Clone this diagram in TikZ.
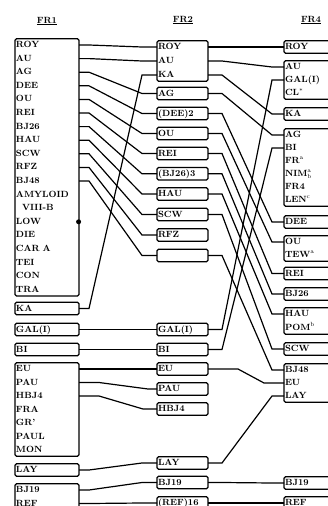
\documentclass[tikz,border=0pt]{standalone}
\usepackage{tikz}
\usetikzlibrary{positioning,fit}

\begin{document}
\begin{tikzpicture}[x=1pt, y=-1pt,
    title/.style={font=\bfseries\small},
    cell/.style={anchor=west, inner xsep=1pt, inner ysep=0pt, outer sep=0pt, text height=7pt,
                 text depth=2pt, align=left, font=\bfseries\small},
    c1/.style={cell, text width=62pt},
    c2/.style={cell, text width=49pt},
    c4/.style={cell, text width=70pt},
    box/.style={draw, line width=1.2pt, rounded corners=1.5pt, inner xsep=0pt, inner ysep=1.75pt},
    link/.style={line width=1.2pt, to path={-- ++(10,0) -- ([xshift=-15pt]\tikztotarget) -- (\tikztotarget)}},
    linkb/.style={line width=1.2pt, to path={-- ++(14,0) -- ([xshift=-12pt]\tikztotarget) -- (\tikztotarget)}},
    centro/.style={circle, fill, inner sep=0pt, minimum size=5pt}
  ]
  \clip (0,0) rectangle (328,506);

  % Titles
  \node[title] (t1) at (47,21) {\underline{FR1}};
  \node[title] (t2) at (183,20) {\underline{FR2}};
  \node[title] (t4) at (311,20) {\underline{FR4}};

  % FR1
  \node[c1] (r1roy) at (15,45) {ROY};
  \node[c1, below=4.6pt of r1roy] (r1au) {AU};
  \node[c1, below=4.6pt of r1au] (r1ag) {AG};
  \node[c1, below=4.6pt of r1ag] (r1dee) {DEE};
  \node[c1, below=4.6pt of r1dee] (r1ou) {OU};
  \node[c1, below=4.6pt of r1ou] (r1rei) {REI};
  \node[c1, below=4.6pt of r1rei] (r1bj26) {BJ26};
  \node[c1, below=4.6pt of r1bj26] (r1hau) {HAU};
  \node[c1, below=4.6pt of r1hau] (r1scw) {SCW};
  \node[c1, below=4.6pt of r1scw] (r1rfz) {RFZ};
  \node[c1, below=4.6pt of r1rfz] (r1bj48) {BJ48};
  \node[c1, below=4.6pt of r1bj48] (r1amy) {AMYLOID};
  \node[c1, below=4.6pt of r1amy] (r1viii) {\hspace*{6pt}VIII-B};
  \node[c1, below=4.6pt of r1viii] (r1low) {LOW};
  \node[c1, below=4.6pt of r1low] (r1die) {DIE};
  \node[c1, below=4.6pt of r1die] (r1car) {CAR A};
  \node[c1, below=4.6pt of r1car] (r1tei) {TEI};
  \node[c1, below=4.6pt of r1tei] (r1con) {CON};
  \node[c1, below=4.6pt of r1con] (r1tra) {TRA};
  \node[box, fit=(r1roy)(r1tra)] (b1main) {};
  \node[centro] (cen) at ([xshift=-1pt]b1main.east |- r1low) {};

  \node[c1] (r1ka) at (15,308.5) {KA};
  \node[box, fit=(r1ka)] (b1ka) {};
  \node[c1] (r1gal) at (15,329.5) {GAL(I)};
  \node[box, fit=(r1gal)] (b1gal) {};
  \node[c1] (r1bi) at (15,349.5) {BI};
  \node[box, fit=(r1bi)] (b1bi) {};

  \node[c1] (r1eu) at (15,369) {EU};
  \node[c1, below=4.5pt of r1eu] (r1pau) {PAU};
  \node[c1, below=4.5pt of r1pau] (r1hbj4) {HBJ4};
  \node[c1, below=4.5pt of r1hbj4] (r1fra) {FRA};
  \node[c1, below=4.5pt of r1fra] (r1gr) {GR'};
  \node[c1, below=4.5pt of r1gr] (r1paul) {PAUL};
  \node[c1, below=4.5pt of r1paul] (r1mon) {MON};
  \node[box, fit=(r1eu)(r1mon)] (b1eu) {};

  \node[c1] (r1lay) at (15,470) {LAY};
  \node[box, fit=(r1lay)] (b1lay) {};
  \node[c1] (r1bj19) at (15,490) {BJ19};
  \node[c1, below=4.5pt of r1bj19] (r1ref) {REF};
  \node[box, fit=(r1bj19)(r1ref)] (b1bj19) {};

  % FR2
  \node[c2] (r2roy) at (157,47) {ROY};
  \node[c2, below=5pt of r2roy] (r2au) {AU};
  \node[c2, below=5pt of r2au] (r2ka) {KA};
  \node[box, fit=(r2roy)(r2ka)] (b2roy) {};
  \node[c2] (r2ag) at (157,93.5) {AG};
  \node[box, fit=(r2ag)] (b2ag) {};
  \node[c2] (r2dee) at (157,113.5) {(DEE)2};
  \node[box, fit=(r2dee)] (b2dee) {};
  \node[c2] (r2ou) at (157,133.5) {OU};
  \node[box, fit=(r2ou)] (b2ou) {};
  \node[c2] (r2rei) at (157,153.5) {REI};
  \node[box, fit=(r2rei)] (b2rei) {};
  \node[c2] (r2bj26) at (157,173.8) {(BJ26)3};
  \node[box, fit=(r2bj26)] (b2bj26) {};
  \node[c2] (r2hau) at (157,194) {HAU};
  \node[box, fit=(r2hau)] (b2hau) {};
  \node[c2] (r2scw) at (157,214.5) {SCW};
  \node[box, fit=(r2scw)] (b2scw) {};
  \node[c2] (r2rfz) at (157,235) {RFZ};
  \node[box, fit=(r2rfz)] (b2rfz) {};
  \node[c2] (r2blank) at (157,255.5) {};
  \node[box, fit=(r2blank)] (b2blank) {};
  \node[c2] (r2gal) at (157,329.5) {GAL(I)};
  \node[box, fit=(r2gal)] (b2gal) {};
  \node[c2] (r2bi) at (157,349.5) {BI};
  \node[box, fit=(r2bi)] (b2bi) {};
  \node[c2] (r2eu) at (157,369) {EU};
  \node[box, fit=(r2eu)] (b2eu) {};
  \node[c2] (r2pau) at (157,389) {PAU};
  \node[box, fit=(r2pau)] (b2pau) {};
  \node[c2] (r2hbj4) at (157,409) {HBJ4};
  \node[box, fit=(r2hbj4)] (b2hbj4) {};
  \node[c2] (r2lay) at (157,463) {LAY};
  \node[box, fit=(r2lay)] (b2lay) {};
  \node[c2] (r2bj19) at (157,482.5) {BJ19};
  \node[box, fit=(r2bj19)] (b2bj19) {};
  \node[c2] (r2ref) at (157,503) {(REF)16};
  \node[box, fit=(r2ref)] (b2ref) {};

  % FR4
  \node[c4] (r4roy) at (284,47) {ROY};
  \node[box, fit=(r4roy)] (b4roy) {};
  \node[c4] (r4au) at (284,67) {AU};
  \node[c4, below=4pt of r4au] (r4gal) {GAL(I)};
  \node[c4, below=4pt of r4gal] (r4cl) {CL$^{*}$};
  \node[box, fit=(r4au)(r4cl)] (b4au) {};
  \node[c4] (r4ka) at (284,114) {KA};
  \node[box, fit=(r4ka)] (b4ka) {};
  \node[c4] (r4ag) at (284,135) {AG};
  \node[c4, below=4pt of r4ag] (r4bi) {BI};
  \node[c4, below=4pt of r4bi] (r4fr) {FR$^{\mathrm{a}}$};
  \node[c4, below=4pt of r4fr] (r4nim) {NIM$^{\mathrm{a}}_{\mathrm{b}}$};
  \node[c4, below=4pt of r4nim] (r4frf) {FR4};
  \node[c4, below=4pt of r4frf] (r4len) {LEN$^{\mathrm{c}}$};
  \node[box, fit=(r4ag)(r4len)] (b4ag) {};
  \node[c4] (r4dee) at (284,222) {DEE};
  \node[box, fit=(r4dee)] (b4dee) {};
  \node[c4] (r4ou) at (284,242) {OU};
  \node[c4, below=4pt of r4ou] (r4tew) {TEW$^{\mathrm{a}}$};
  \node[box, fit=(r4ou)(r4tew)] (b4ou) {};
  \node[c4] (r4rei) at (284,273.5) {REI};
  \node[box, fit=(r4rei)] (b4rei) {};
  \node[c4] (r4bj26) at (284,294) {BJ26};
  \node[box, fit=(r4bj26)] (b4bj26) {};
  \node[c4] (r4hau) at (284,314) {HAU};
  \node[c4, below=5pt of r4hau] (r4pom) {POM$^{\mathrm{b}}$};
  \node[box, fit=(r4hau)(r4pom)] (b4hau) {};
  \node[c4] (r4scw) at (284,349) {SCW};
  \node[box, fit=(r4scw)] (b4scw) {};
  \node[c4] (r4bj48) at (284,370) {BJ48};
  \node[c4, below=4pt of r4bj48] (r4eu) {EU};
  \node[c4, below=4pt of r4eu] (r4lay) {LAY};
  \node[box, fit=(r4bj48)(r4lay)] (b4bj48) {};
  \node[c4] (r4bj19) at (284,483) {BJ19};
  \node[box, fit=(r4bj19)] (b4bj19) {};
  \node[c4] (r4ref) at (284,503) {REF};
  \node[box, fit=(r4ref)] (b4ref) {};

  % FR1 to FR2
  \draw[link] (r1roy.east) to (r2roy.west);
  \draw[link] (r1au.east) to (r2au.west);
  \draw[link] (r1ag.east) to (r2ag.west);
  \draw[link] (r1dee.east) to (r2dee.west);
  \draw[link] (r1ou.east) to (r2ou.west);
  \draw[link] (r1rei.east) to (r2rei.west);
  \draw[link] (r1bj26.east) to (r2bj26.west);
  \draw[link] (r1hau.east) to (r2hau.west);
  \draw[link] (r1scw.east) to (r2scw.west);
  \draw[link] (r1rfz.east) to (r2rfz.west);
  \draw[link] (r1bj48.east) to (r2blank.west);
  \draw[link] (r1ka.east) to (r2ka.west);
  \draw[link] (r1gal.east) to (r2gal.west);
  \draw[link] (r1bi.east) to (r2bi.west);
  \draw[link] (r1eu.east) to (r2eu.west);
  \draw[line width=1.2pt] (r1pau.east) -- ++(20,0) -- ([xshift=-9pt]r2pau.west) -- (r2pau.west);
  \draw[line width=1.2pt] (r1hbj4.east) -- ++(20,0) -- ([xshift=-14pt]r2hbj4.west) -- (r2hbj4.west);
  \draw[link] (r1lay.east) to (r2lay.west);
  \draw[link] (r1bj19.east) to (r2bj19.west);
  \draw[link] (r1ref.east) to (r2ref.west);

  % FR2 to FR4
  \draw[linkb] (r2roy.east) to (r4roy.west);
  \draw[linkb] (r2au.east) to (r4au.west);
  \draw[linkb] (r2ka.east) to (r4ka.west);
  \draw[linkb] (r2ag.east) to (r4ag.west);
  \draw[linkb] (r2dee.east) to (r4dee.west);
  \draw[linkb] (r2ou.east) to (r4ou.west);
  \draw[linkb] (r2rei.east) to (r4rei.west);
  \draw[linkb] (r2bj26.east) to (r4bj26.west);
  \draw[linkb] (r2hau.east) to (r4hau.west);
  \draw[linkb] (r2scw.east) to (r4scw.west);
  \draw[linkb] (r2blank.east) to (r4bj48.west);
  \draw[linkb] (r2gal.east) to (r4gal.west);
  \draw[linkb] (r2bi.east) to (r4bi.west);
  \draw[line width=1.2pt] (r2eu.east) -- ++(30,0) -- ([xshift=-20pt]r4eu.west) -- (r4eu.west);
  \draw[linkb] (r2lay.east) to (r4lay.west);
  \draw[linkb] (r2bj19.east) to (r4bj19.west);
  \draw[linkb] (r2ref.east) to (r4ref.west);
\end{tikzpicture}
\end{document}
